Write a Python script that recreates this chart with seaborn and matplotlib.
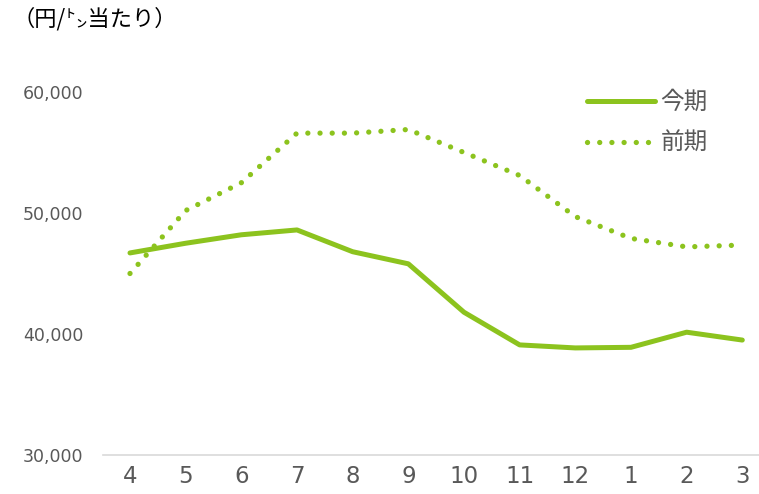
import numpy as np
import pandas as pd
import matplotlib
matplotlib.use("Agg")
import matplotlib.pyplot as plt
import seaborn as sns

months = ["4", "5", "6", "7", "8", "9", "10", "11", "12", "1", "2", "3"]
current = [46700, 47500, 48200, 48600, 46800, 45800, 41800, 39100, 38850, 38900, 40150, 39500]
previous = [45000, 50200, 52500, 56600, 56600, 56900, 55000, 53100, 49700, 47900, 47200, 47350]
series_names = ["今期", "前期"]
yticks = [30000, 40000, 50000, 60000]

green = "#8CC31E"
gray_text = "#595959"

sns.set_theme(style="white")
plt.rcParams["font.family"] = ["Noto Sans CJK JP", "DejaVu Sans"]

pos = np.arange(len(months))
df = pd.DataFrame({
    "pos": np.concatenate([pos, pos]),
    "value": current + previous,
    "series": [series_names[0]] * len(months) + [series_names[1]] * len(months),
})

fig = plt.figure(figsize=(7.59, 4.94), dpi=100)
ax = fig.add_axes([0.1357, 0.0789, 0.8643, 0.7349])

sns.lineplot(data=df[df["series"] == series_names[0]], x="pos", y="value",
             color=green, lw=3.6, solid_capstyle="round", ax=ax, label=series_names[0])
sns.lineplot(data=df[df["series"] == series_names[1]], x="pos", y="value",
             color=green, lw=3.8, linestyle=(0, (0.01, 2.3)), dash_capstyle="round",
             ax=ax, label=series_names[1])

ax.set_xlim(-0.485, 11.3)
ax.set_ylim(30000, 60000)
ax.set_xticks(pos)
ax.set_xticklabels(months, fontfamily="DejaVu Sans")
ax.set_yticks(yticks)
ax.set_yticklabels([f"{v:,}" for v in yticks], fontfamily="DejaVu Sans")
ax.tick_params(axis="x", length=0, pad=7, labelsize=16.5, labelcolor=gray_text)
ax.tick_params(axis="y", length=0, pad=14, labelsize=12.5, labelcolor=gray_text)
ax.set_xlabel("")
ax.set_ylabel("")

for s in ["top", "right", "left"]:
    ax.spines[s].set_visible(False)
ax.spines["bottom"].set_color("#D9D9D9")
ax.spines["bottom"].set_linewidth(1.2)

leg = ax.legend(loc="upper left", bbox_to_anchor=(566 / 759, 1 - 70 / 494),
                bbox_transform=fig.transFigure, frameon=False, fontsize=17,
                handlelength=2.85, handletextpad=0.25, labelspacing=0.75)
for t in leg.get_texts():
    t.set_color(gray_text)

fig.text(12 / 759, 1 - 19 / 494, "（円/㌧当たり）", fontsize=16, color="black",
         va="center", ha="left")

fig.savefig("out.png", dpi=100)
